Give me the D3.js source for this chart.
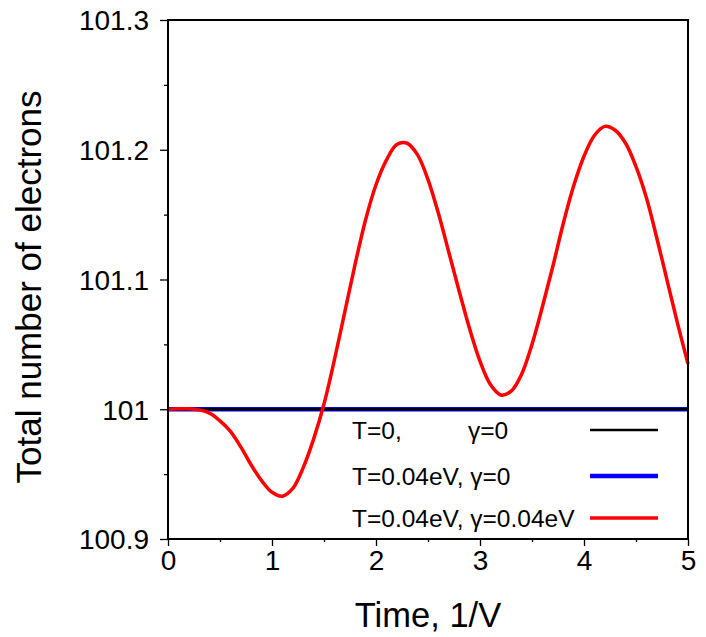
<!DOCTYPE html>
<html>
<head>
<meta charset="utf-8">
<script src="https://cdn.jsdelivr.net/npm/d3@7"></script>
<style>
  body { margin: 0; background: #fff; }
  text { font-family: "Liberation Sans", Arial, Helvetica, sans-serif; fill: #000; }
</style>
</head>
<body>
<div id="chart"></div>
<script>
// time axis (1/V) and total electron count
const redTimes = [0, 0.1, 0.2, 0.3, 0.4, 0.5, 0.6, 0.7, 0.8, 0.9,
                  1.0, 1.1, 1.2, 1.3, 1.4, 1.5, 1.6, 1.7, 1.8, 1.9,
                  2.0, 2.1, 2.2, 2.3, 2.4, 2.5, 2.6, 2.7, 2.8, 2.9,
                  3.0, 3.1, 3.2, 3.3, 3.4, 3.5, 3.6, 3.7, 3.8, 3.9,
                  4.0, 4.1, 4.2, 4.3, 4.4, 4.5, 4.6, 4.7, 4.8, 4.9, 5.0];
const redValues = [101.000, 101.0003, 101.0004, 100.9995, 100.997, 100.991, 100.983, 100.971, 100.957, 100.945,
                   100.936, 100.933, 100.939, 100.955, 100.977, 101.004, 101.038, 101.075, 101.112, 101.146,
                   101.173, 101.192, 101.204, 101.205, 101.196, 101.177, 101.151, 101.121, 101.091, 101.062,
                   101.037, 101.019, 101.011, 101.014, 101.027, 101.050, 101.079, 101.110, 101.143, 101.172,
                   101.195, 101.211, 101.218, 101.215, 101.205, 101.187, 101.163, 101.132, 101.099, 101.066, 101.035];
const flatTimes = [0, 5];
const blackValues = [101, 101];   // T=0, gamma=0
const blueValues = [101, 101];    // T=0.04eV, gamma=0

const xTicks = [0, 1, 2, 3, 4, 5];
const xMinor = [0.5, 1.5, 2.5, 3.5, 4.5];
const yTicks = [100.9, 101.0, 101.1, 101.2, 101.3];
const yTickLabels = ["100.9", "101", "101.1", "101.2", "101.3"];
const yMinor = [100.95, 101.05, 101.15, 101.25];

const legendLabels = [
  ["T=0,", "\u03b3=0"],
  ["T=0.04eV, \u03b3=0"],
  ["T=0.04eV, \u03b3=0.04eV"]
];

const W = 706, H = 637;
const plotL = 168, plotR = 688, plotT = 20, plotB = 539;

const svg = d3.select("#chart").append("svg")
  .attr("width", W)
  .attr("height", H);

const x = d3.scaleLinear().domain([0, 5]).range([plotL, plotR]);
const y = d3.scaleLinear().domain([100.9, 101.3]).range([plotB, plotT]);

const line = d3.line()
  .x(d => x(d[0]))
  .y(d => y(d[1]))
  .curve(d3.curveCatmullRom);

// series: blue underneath, black on top, then red
const series = [
  { pts: d3.zip(flatTimes, blueValues), color: "#0000ff", w: 4.5 },
  { pts: d3.zip(flatTimes, blackValues), color: "#000000", w: 2.5 },
  { pts: d3.zip(redTimes, redValues), color: "#ff0000", w: 3.5 }
];

svg.selectAll("path.series")
  .data(series)
  .enter().append("path")
  .attr("class", "series")
  .attr("d", d => line(d.pts))
  .attr("fill", "none")
  .attr("stroke", d => d.color)
  .attr("stroke-width", d => d.w);

// axes: major + minor ticks, outward
const xAxis = d3.axisBottom(x).tickValues(xTicks).tickSize(7).tickPadding(4).tickFormat(d3.format("d"));
const xAxisMinor = d3.axisBottom(x).tickValues(xMinor).tickSize(3).tickFormat("");
const yAxis = d3.axisLeft(y).tickValues(yTicks).tickSize(8).tickPadding(11)
  .tickFormat((d, i) => yTickLabels[i]);
const yAxisMinor = d3.axisLeft(y).tickValues(yMinor).tickSize(4).tickFormat("");

function styleAxis(g) {
  g.select(".domain").remove();
  g.selectAll(".tick line").attr("stroke", "#000").attr("stroke-width", 1.3);
  g.selectAll(".tick text").style("font-size", "28px").attr("fill", "#000");
}

svg.append("g").attr("transform", `translate(0,${plotB})`).call(xAxis).call(styleAxis);
svg.append("g").attr("transform", `translate(0,${plotB})`).call(xAxisMinor).call(styleAxis);
svg.append("g").attr("transform", `translate(${plotL},0)`).call(yAxis).call(styleAxis)
  .selectAll(".tick text").attr("dy", "0.35em");
svg.append("g").attr("transform", `translate(${plotL},0)`).call(yAxisMinor).call(styleAxis);

// frame
svg.append("rect")
  .attr("x", plotL).attr("y", plotT)
  .attr("width", plotR - plotL).attr("height", plotB - plotT)
  .attr("fill", "none")
  .attr("stroke", "#000")
  .attr("stroke-width", 2);

// axis titles
svg.append("text")
  .attr("x", (plotL + plotR) / 2)
  .attr("y", 627)
  .attr("text-anchor", "middle")
  .style("font-size", "34.5px")
  .text("Time, 1/V");

svg.append("text")
  .attr("transform", "translate(41,287) rotate(-90)")
  .attr("text-anchor", "middle")
  .style("font-size", "35px")
  .text("Total number of electrons");

// legend
const legendY = [430, 476, 518];
const legend = svg.append("g");
legendLabels.forEach((lab, i) => {
  legend.append("text")
    .attr("x", 352)
    .attr("y", legendY[i] + 8.5)
    .style("font-size", "24.5px")
    .text(lab[0]);
  if (lab.length > 1) {
    legend.append("text")
      .attr("x", 468)
      .attr("y", legendY[i] + 8.5)
      .style("font-size", "24.5px")
      .text(lab[1]);
  }
});
legend.selectAll("line")
  .data([series[1], series[0], series[2]])
  .enter().append("line")
  .attr("x1", 590).attr("x2", 658)
  .attr("y1", (d, i) => legendY[i])
  .attr("y2", (d, i) => legendY[i])
  .attr("stroke", d => d.color)
  .attr("stroke-width", d => d.w);
</script>
</body>
</html>
